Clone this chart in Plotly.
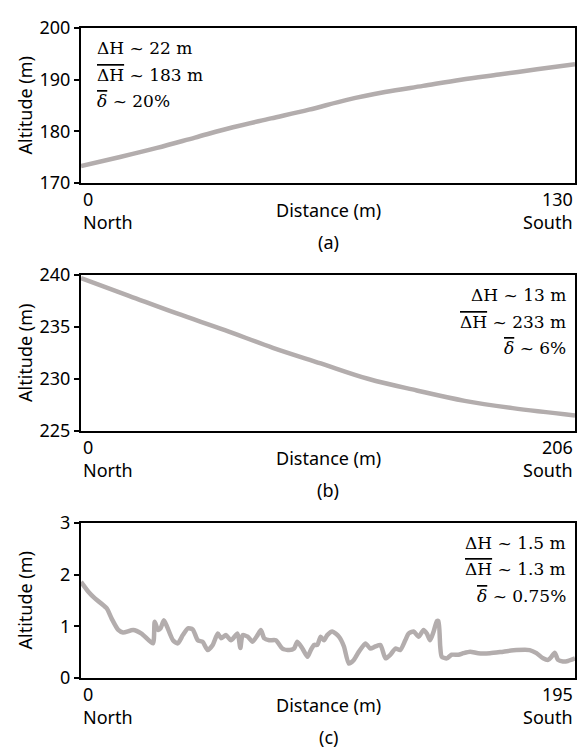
import plotly.graph_objects as go

# ---------------- data ----------------
dist_a = [0, 10, 20, 30, 40, 50, 60, 70, 80, 90, 100, 110, 120, 130]
alt_a = [173.3, 175.0, 176.8, 178.8, 180.8, 182.5, 184.2, 186.1, 187.6, 188.8, 190.0, 191.0, 192.0, 193.0]

dist_b = [0, 20, 40, 60, 80, 100, 120, 140, 160, 180, 206]
alt_b = [239.7, 238.0, 236.3, 234.7, 233.0, 231.5, 230.0, 228.9, 227.9, 227.2, 226.5]

dist_c = [0, 2.9, 5.5, 10.1, 12.1, 14.7, 16.6, 20.6, 23.9, 28.4, 29.1, 30.4, 31.4, 32.7, 34,
          36.3, 38.2, 40.2, 42.2, 44.1, 46.1, 48, 50, 52, 54, 55.3, 57.2, 59.2, 61.8, 62.9,
          63.8, 65.8, 67.7, 69.7, 71, 72.3, 74.3, 76.9, 79.5, 82.2, 84.1, 85.4, 87.4, 89.4,
          90.7, 92, 93.3, 94.6, 95.9, 97.2, 99.2, 101.8, 103.8, 105.7, 107.7, 109.7, 112.3,
          114.2, 116.2, 118.2, 120.2, 122.1, 124.1, 126, 128, 129.3, 131.3, 133.3, 135.2,
          136.5, 137.8, 139.2, 140.5, 141.1, 141.8, 142.4, 144.4, 146.3, 149, 150.9, 153.6,
          156.8, 161.4, 166.7, 171.9, 177.1, 179.8, 182.4, 184.4, 185.7, 187, 188.3, 190.2,
          192.2, 195]
alt_c = [1.86, 1.67, 1.54, 1.35, 1.15, 0.93, 0.88, 0.93, 0.86, 0.67, 1.09, 0.93, 0.96, 1.12, 0.99,
         0.73, 0.67, 0.83, 0.96, 0.94, 0.73, 0.70, 0.54, 0.64, 0.86, 0.77, 0.83, 0.73, 0.86, 0.58,
         0.83, 0.80, 0.70, 0.83, 0.93, 0.77, 0.73, 0.73, 0.57, 0.54, 0.57, 0.70, 0.57, 0.41,
         0.54, 0.64, 0.64, 0.80, 0.73, 0.83, 0.90, 0.80, 0.61, 0.28, 0.35, 0.51, 0.67,
         0.57, 0.61, 0.64, 0.38, 0.45, 0.57, 0.54, 0.73, 0.86, 0.90, 0.80, 0.93,
         0.86, 0.73, 0.90, 1.10, 1.10, 0.61, 0.41, 0.38, 0.45, 0.45, 0.48, 0.51,
         0.48, 0.48, 0.51, 0.54, 0.54, 0.48, 0.38, 0.35, 0.41, 0.49, 0.35, 0.32,
         0.33, 0.38]

x_max = [130, 206, 195]
y_ranges = [[170, 200], [225, 240], [0, 3]]
y_ticks = [[170, 180, 190, 200], [225, 230, 235, 240], [0, 1, 2, 3]]
x_tick_labels = [["0", "130"], ["0", "206"], ["0", "195"]]
end_labels = ["North", "South"]
panel_labels = ["(a)", "(b)", "(c)"]
x_title = "Distance (m)"
y_title = "Altitude (m)"

OV = '<span style="text-decoration:overline">'
stats = [
    ["ΔH ~ 22 m", OV + "ΔH</span> ~ 183 m", OV + "<i>δ</i></span> ~ 20%"],
    ["ΔH ~ 13 m", OV + "ΔH</span> ~ 233 m", OV + "<i>δ</i></span> ~ 6%"],
    ["ΔH ~ 1.5 m", OV + "ΔH</span> ~ 1.3 m", OV + "<i>δ</i></span> ~ 0.75%"],
]
stat_side = ["left", "right", "right"]

# ---------------- figure ----------------
LINE_COLOR = "#b3adad"
SANS = "Noto Sans"
SERIF = "DejaVu Serif"

fig = go.Figure()
series = [(dist_a, alt_a, 1.0), (dist_b, alt_b, 1.0), (dist_c, alt_c, 0.6)]
for i, (xs, ys, sm) in enumerate(series):
    sfx = "" if i == 0 else str(i + 1)
    fig.add_trace(go.Scatter(
        x=xs, y=ys, mode="lines",
        line=dict(color=LINE_COLOR, width=4.5, shape="spline", smoothing=sm),
        xaxis="x" + sfx, yaxis="y" + sfx, hoverinfo="skip"))

domains = [[0.7615, 1.0], [0.380, 0.620], [0.0, 0.2385]]
layout = dict(
    width=580, height=749,
    margin=dict(l=81, r=3, t=28, b=71),
    plot_bgcolor="white", paper_bgcolor="white",
    showlegend=False,
    font=dict(family=SANS, size=18, color="black"),
)
annotations = []
for i in range(3):
    sfx = "" if i == 0 else str(i + 1)
    layout["xaxis" + sfx] = dict(
        domain=[0, 1], range=[0, x_max[i]], anchor="y" + sfx,
        showline=True, mirror=True, linecolor="black", linewidth=2,
        showgrid=False, zeroline=False, showticklabels=False, ticks="")
    layout["yaxis" + sfx] = dict(
        domain=domains[i], range=y_ranges[i], anchor="x" + sfx,
        tickvals=y_ticks[i], ticks="outside", ticklen=5, tickwidth=1.5, tickcolor="black",
        showline=True, mirror=True, linecolor="black", linewidth=2,
        showgrid=False, zeroline=False,
        tickfont=dict(family=SANS, size=18, color="black"))
    xr = "x" + sfx
    yd = "y" + sfx + " domain"
    for j, (xv, anc) in enumerate([(0, "left"), (x_max[i], "right")]):
        annotations.append(dict(x=xv, xref=xr, y=0, yref=yd, text=x_tick_labels[i][j],
                                showarrow=False, xanchor=anc, yanchor="middle", yshift=-16,
                                font=dict(family=SANS, size=18, color="black")))
        annotations.append(dict(x=xv, xref=xr, y=0, yref=yd, text=end_labels[j],
                                showarrow=False, xanchor=anc, yanchor="middle", yshift=-39,
                                font=dict(family=SANS, size=18, color="black")))
    annotations.append(dict(x=0.5, xref="x" + sfx + " domain", y=0, yref=yd, text=x_title,
                            showarrow=False, xanchor="center", yanchor="middle", yshift=-27,
                            font=dict(family=SANS, size=18, color="black")))
    annotations.append(dict(x=0.5, xref="x" + sfx + " domain", y=0, yref=yd, text=panel_labels[i],
                            showarrow=False, xanchor="center", yanchor="middle", yshift=-59,
                            font=dict(family=SANS, size=18, color="black")))
    annotations.append(dict(x=0, xref="x" + sfx + " domain", y=0.5, yref=yd, text=y_title,
                            showarrow=False, xanchor="center", yanchor="middle", xshift=-56,
                            textangle=-90,
                            font=dict(family=SANS, size=18, color="black")))
    ys_pos = [0.87, 0.70, 0.53]
    for k, t in enumerate(stats[i]):
        if stat_side[i] == "left":
            xpos, anc = 0.028, "left"
        else:
            xpos, anc = 0.985, "right"
        annotations.append(dict(x=xpos, xref="x" + sfx + " domain", y=ys_pos[k], yref=yd,
                                text=t, showarrow=False, xanchor=anc, yanchor="middle",
                                font=dict(family=SERIF, size=17, color="black")))

layout["annotations"] = annotations
fig.update_layout(**layout)
fig.write_html("out.html")
